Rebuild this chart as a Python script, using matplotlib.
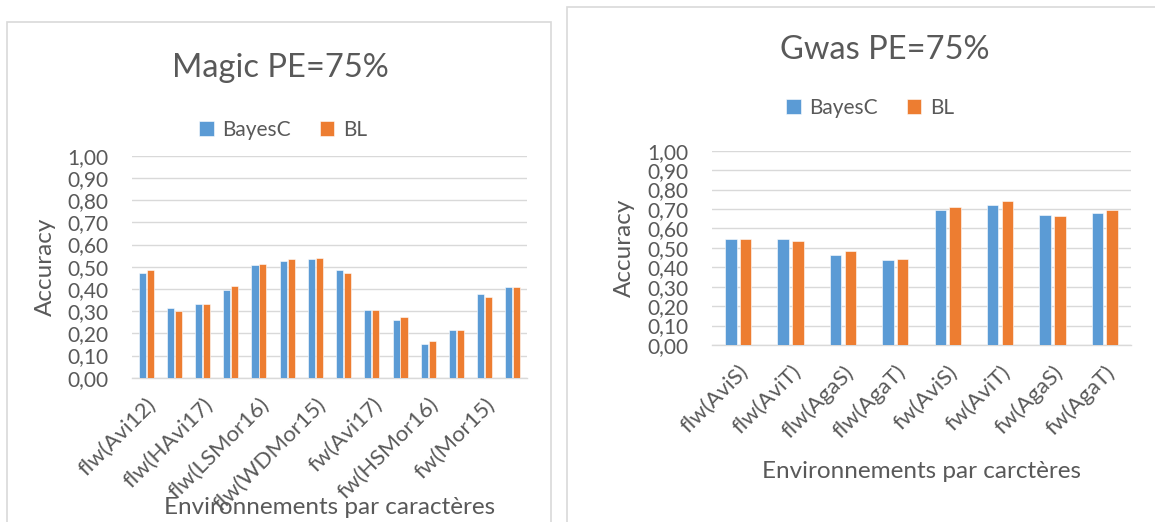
import matplotlib

matplotlib.use("Agg")
import matplotlib.pyplot as plt
import numpy as np
from matplotlib.patches import Rectangle

plt.rcParams["font.family"] = ["Lato", "DejaVu Sans"]

BLUE = "#5B9BD5"
ORANGE = "#ED7D31"
TEXT = "#595959"
GRID = "#D9D9D9"

series_names = ["BayesC", "BL"]

# Magic PE=75% (14 environments, only every other label is shown)
magic_labels = ["flw(Avi12)", "flw(HAvi17)", "flw(LSMor16)", "flw(WDMor15)",
                "fw(Avi17)", "fw(HSMor16)", "fw(Mor15)"]
magic_bayesc = [0.473, 0.312, 0.332, 0.393, 0.506, 0.527, 0.536,
                0.485, 0.305, 0.260, 0.152, 0.215, 0.375, 0.408]
magic_bl = [0.486, 0.300, 0.332, 0.413, 0.514, 0.535, 0.539,
            0.473, 0.305, 0.272, 0.164, 0.215, 0.362, 0.407]

# Gwas PE=75%
gwas_labels = ["flw(AviS)", "flw(AviT)", "flw(AgaS)", "flw(AgaT)",
               "fw(AviS)", "fw(AviT)", "fw(AgaS)", "fw(AgaT)"]
gwas_bayesc = [0.545, 0.544, 0.463, 0.437, 0.696, 0.720, 0.667, 0.678]
gwas_bl = [0.544, 0.535, 0.484, 0.441, 0.712, 0.743, 0.664, 0.695]

W, H = 1155, 522
fig = plt.figure(figsize=(W / 100, H / 100), dpi=100)


def fx(px):
    return px / W


def fy(py):
    return 1 - py / H


# chart frames
fig.patches.append(Rectangle((fx(7), fy(530)), fx(544), fy(22) - fy(530),
                             transform=fig.transFigure, fill=False,
                             edgecolor=GRID, linewidth=1.2))
fig.patches.append(Rectangle((fx(567), fy(530)), fx(600), fy(7) - fy(530),
                             transform=fig.transFigure, fill=False,
                             edgecolor=GRID, linewidth=1.2))


def draw(rect, blue, orange, labels, step, width, gap, title, title_xy,
         legend_xy, xlabel, xlabel_y, ylabel_x):
    ax = fig.add_axes(rect)
    x = np.arange(len(blue))
    b1 = ax.bar(x - (width + gap) / 2, blue, width, color=BLUE,
                edgecolor="white", linewidth=0.4, label=series_names[0],
                zorder=3)
    b2 = ax.bar(x + (width + gap) / 2, orange, width, color=ORANGE,
                edgecolor="white", linewidth=0.4, label=series_names[1],
                zorder=3)
    ax.set_xlim(-0.5, len(blue) - 0.5)
    ax.set_ylim(0, 1.0)
    yt = np.arange(0, 1.01, 0.1)
    ax.set_yticks(yt)
    ax.set_yticklabels([f"{v:.2f}".replace(".", ",") for v in yt],
                       fontsize=15, color=TEXT)
    ax.set_xticks(x[::step])
    ax.set_xticklabels(labels, rotation=45, ha="right",
                       rotation_mode="anchor", fontsize=16, color=TEXT)
    ax.tick_params(axis="both", length=0)
    ax.tick_params(axis="y", pad=17)
    ax.tick_params(axis="x", pad=12)
    ax.grid(axis="y", color=GRID, linewidth=1.0, zorder=0)
    for s in ["top", "right", "left"]:
        ax.spines[s].set_visible(False)
    ax.spines["bottom"].set_color(GRID)
    ax.spines["bottom"].set_linewidth(1.0)
    fig.text(fx(ylabel_x), rect[1] + rect[3] / 2, "Accuracy", rotation=90,
             ha="center", va="center", fontsize=17.5, color=TEXT)
    fig.text(rect[0] + rect[2] / 2, fy(xlabel_y), xlabel, ha="center",
             va="center", fontsize=17.5, color=TEXT)
    fig.text(fx(title_xy[0]), fy(title_xy[1]), title, ha="center",
             va="center", fontsize=23.5, color=TEXT)
    fig.legend(handles=[b1, b2], loc="center",
               bbox_to_anchor=(fx(legend_xy[0]), fy(legend_xy[1])),
               ncol=2, frameon=False, fontsize=15, labelcolor=TEXT,
               handlelength=0.7, handleheight=0.7, handletextpad=0.4,
               columnspacing=1.4)
    return ax


draw([fx(132), fy(377.7), fx(395), fy(155.7) - fy(377.7)],
     magic_bayesc, magic_bl, magic_labels, 2, 0.25, 0.03,
     "Magic PE=75%", (280, 68), (283, 130),
     "Environnements par caractères", 508, 45)

draw([fx(712), fy(345), fx(419), fy(150.7) - fy(345)],
     gwas_bayesc, gwas_bl, gwas_labels, 1, 0.22, 0.06,
     "Gwas PE=75%", (885, 50), (870, 108),
     "Environnements par carctères", 472, 624)

fig.savefig("out.png", dpi=100)
